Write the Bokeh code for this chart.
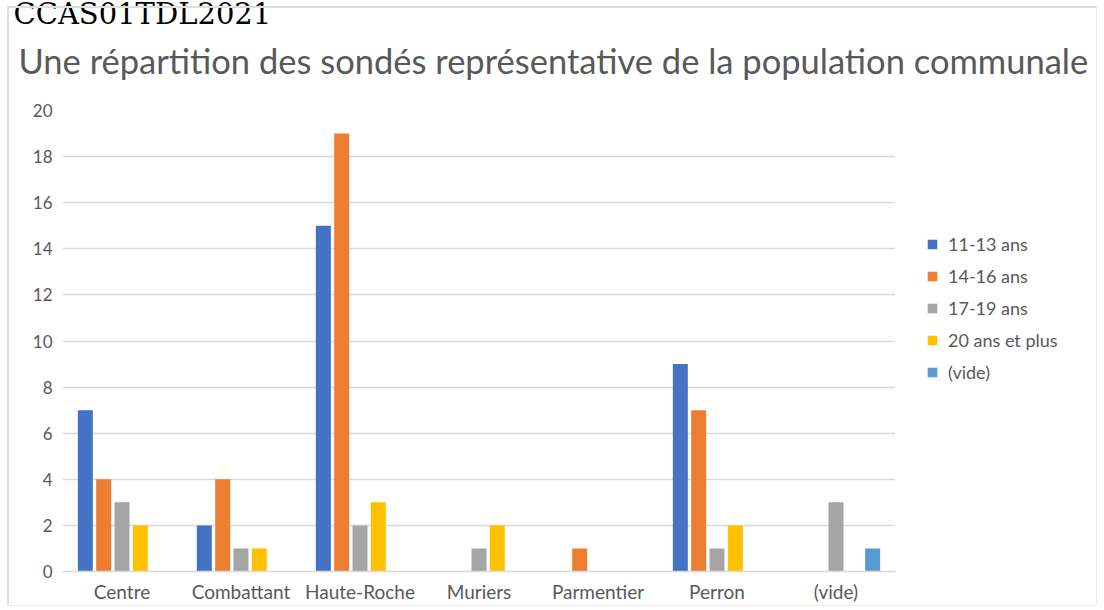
from bokeh.plotting import figure
from bokeh.layouts import row
from bokeh.models import (ColumnDataSource, FactorRange, Range1d, Legend, LegendItem,
                          Title, FixedTicker, InlineStyleSheet)
from bokeh.transform import dodge
from bokeh.embed import file_html
from bokeh.resources import INLINE

# ---- data ----
categories = ["Centre", "Combattant", "Haute-Roche", "Muriers", "Parmentier", "Perron", "(vide)"]
series_names = ["11-13 ans", "14-16 ans", "17-19 ans", "20 ans et plus", "(vide)"]
s_11_13 = [7, 2, 15, 0, 0, 9, 0]
s_14_16 = [4, 4, 19, 0, 1, 7, 0]
s_17_19 = [3, 1, 2, 1, 0, 1, 3]
s_20_plus = [2, 1, 3, 2, 0, 2, 0]
s_vide = [0, 0, 0, 0, 0, 0, 1]
y_ticks = [0, 2, 4, 6, 8, 10, 12, 14, 16, 18, 20]
title_text = "Une répartition des sondés représentative de la population communale"
doc_label = "CCAS01TDL2021"

series_values = [s_11_13, s_14_16, s_17_19, s_20_plus, s_vide]
colors = ["#4472C4", "#ED7D31", "#A5A5A5", "#FFC000", "#5B9BD5"]
TXT = "#595959"
GRID = "#d9d9d9"
FONT = "Lato"

src = {"cat": categories}
for i, vals in enumerate(series_values):
    src[f"s{i}"] = vals
source = ColumnDataSource(src)

D = 19  # canvas shifted up so the top label is partly cut like the reference
FL, FR, FT, FB = 62, 209, 110 + D, 39
frame_css = InlineStyleSheet(css=f"""
:host {{ position: relative; }}
:host::after {{
  content: ""; position: absolute; pointer-events: none; z-index: 5;
  left: 7px; top: {6 + D}px; width: 1090px; height: 600px;
  border-left: 2px solid #dedede; border-top: 2px solid #dedede;
  border-right: 1px solid #ececec; border-bottom: 1px solid #ececec;
}}
""")

p = figure(width=1104, height=610 + D, x_range=FactorRange(*categories, range_padding=0),
           y_range=Range1d(0, 20), output_backend="svg", toolbar_location=None,
           min_border_left=FL, min_border_right=FR, min_border_top=FT, min_border_bottom=FB,
           margin=(-D, 0, 0, 0), stylesheets=[frame_css])
p.outline_line_color = None
p.background_fill_color = "white"
p.border_fill_color = "white"

step = 0.154
bw = 0.126
for i, name in enumerate(series_names):
    p.vbar(x=dodge("cat", (i - 2) * step, range=p.x_range), top=f"s{i}", width=bw,
           source=source, fill_color=colors[i], line_color=None)

# axes
p.xgrid.grid_line_color = None
p.ygrid.grid_line_color = GRID
p.ygrid.grid_line_width = 1.5
p.yaxis.ticker = FixedTicker(ticks=y_ticks)
p.yaxis.axis_line_color = None
p.yaxis.major_tick_line_color = None
p.yaxis.minor_tick_line_color = None
p.yaxis.major_tick_out = 0
p.yaxis.major_label_standoff = 10
p.xaxis.axis_line_color = GRID
p.xaxis.axis_line_width = 1.5
p.xaxis.major_tick_line_color = None
p.xaxis.major_tick_out = 0
p.xaxis.major_label_standoff = 8
p.yaxis.major_label_text_font_size = "17px"
p.xaxis.major_label_text_font_size = "19px"
for ax in (p.xaxis[0], p.yaxis[0]):
    ax.major_label_text_font = FONT
    ax.major_label_text_color = TXT

# blank spacer between the title and the plot area
p.add_layout(Title(text=" ", text_font_size="1px", standoff=20), "above")

# titles
p.add_layout(Title(text=title_text, align="left", offset=18 - FL, standoff=14,
                   text_font=FONT, text_font_size="34.5px", text_color=TXT,
                   text_font_style="normal"), "above")
p.add_layout(Title(text=doc_label, align="left", offset=13 - FL, standoff=0,
                   text_font="DejaVu Serif", text_font_size="29px", text_color="black",
                   text_font_style="normal"), "above")

# legend holder overlaid on the right part of the chart
LW = 209
q = figure(width=LW, height=610, x_range=Range1d(0, 1), y_range=Range1d(0, 1),
           output_backend="svg", toolbar_location=None, min_border=0,
           margin=(0, 0, 0, -LW))
q.axis.visible = False
q.grid.visible = False
q.outline_line_color = None
q.background_fill_alpha = 0
q.border_fill_alpha = 0
# zero-size legend proxies (one point each so the legend swatches are drawn)
proxies = [q.vbar(x=[0], top=[0], bottom=[0], width=0, fill_color=c, line_color=None)
           for c in colors]
legend = Legend(items=[LegendItem(label=n, renderers=[r]) for n, r in zip(series_names, proxies)],
                location=(31, 188), orientation="vertical",
                padding=0, margin=0, spacing=10,
                glyph_width=12, glyph_height=12, label_height=20, label_standoff=10,
                label_text_font=FONT, label_text_font_size="18px", label_text_color=TXT,
                border_line_color=None, background_fill_alpha=0)
q.add_layout(legend)

layout = row(p, q, margin=0)
open("out.html", "w").write(file_html(layout, INLINE))
